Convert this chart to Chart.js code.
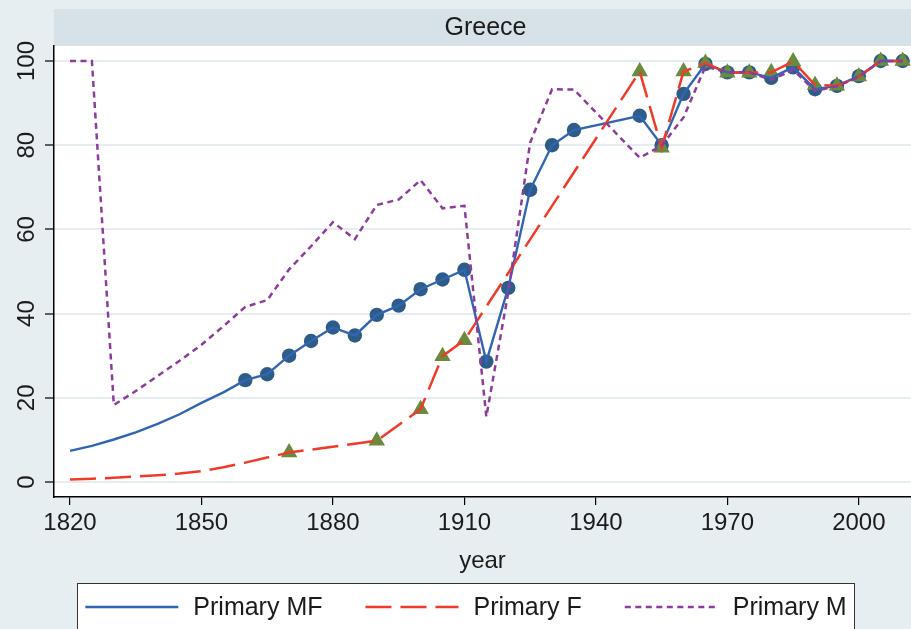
<!DOCTYPE html>
<html lang="en">
<head>
  <meta charset="UTF-8">
  <title>Greece - Primary enrolment</title>
  <script src="https://cdn.jsdelivr.net/npm/chart.js"></script>
  <style>
    html, body { margin: 0; padding: 0; background: #e7eef1; }
    #wrap { width: 911px; height: 629px; }
  </style>
</head>
<body>
  <div id="wrap"><canvas id="chart" width="911" height="629"></canvas></div>
  <script>
    // values
    const mfYears = [1820, 1825, 1830, 1835, 1840, 1845, 1850, 1855, 1860, 1865, 1870, 1875, 1880, 1885, 1890, 1895, 1900, 1905, 1910, 1915, 1920, 1925, 1930, 1935, 1950, 1955, 1960, 1965, 1970, 1975, 1980, 1985, 1990, 1995, 2000, 2005, 2010];
    const mfValues = [7.4, 8.6, 10.1, 11.8, 13.8, 16.1, 18.8, 21.3, 24.2, 25.6, 30.0, 33.5, 36.7, 34.8, 39.7, 41.9, 45.8, 48.1, 50.4, 28.6, 46.1, 69.4, 80.0, 83.6, 87.0, 80.0, 92.2, 99.3, 97.3, 97.3, 96.0, 98.5, 93.3, 94.1, 96.4, 100, 100];

    const fYears = [1820, 1825, 1830, 1835, 1840, 1845, 1850, 1855, 1860, 1865, 1870, 1890, 1900, 1905, 1910, 1950, 1955, 1960, 1965, 1970, 1975, 1980, 1985, 1990, 1995, 2000, 2005, 2010];
    const fValues = [0.6, 0.8, 1.0, 1.3, 1.6, 2.0, 2.6, 3.5, 4.6, 5.8, 7.0, 9.8, 17.3, 29.9, 33.7, 97.5, 79.4, 97.5, 99.5, 97.2, 97.2, 97.3, 99.9, 94.3, 94.1, 96.3, 100, 100];

    const mYears = [1820, 1825, 1830, 1835, 1840, 1845, 1850, 1855, 1860, 1865, 1870, 1875, 1880, 1885, 1890, 1895, 1900, 1905, 1910, 1915, 1920, 1925, 1930, 1935, 1950, 1955, 1960, 1965, 1970, 1975, 1980, 1985, 1990, 1995, 2000, 2005, 2010];
    const mValues = [100, 100, 18.3, 21.6, 25.2, 28.8, 32.6, 37.0, 41.6, 43.2, 50.5, 56.0, 61.7, 57.7, 65.8, 67.1, 71.7, 65.0, 65.6, 15.5, 45.0, 80.6, 93.3, 93.2, 77.0, 79.9, 86.6, 98.7, 97.3, 97.3, 95.5, 97.9, 92.9, 94.0, 96.2, 100, 100];

    // observed (marked) points start here
    const mfMarkFrom = 1860;
    const fMarkFrom = 1870;

    const xTicks = [1820, 1850, 1880, 1910, 1940, 1970, 2000];
    const yTicks = [0, 20, 40, 60, 80, 100];
    const seriesLabels = ['Primary MF', 'Primary F', 'Primary M'];
    const chartTitle = 'Greece';
    const xTitle = 'year';

    const FONT = 'Liberation Sans, Arial, Helvetica, sans-serif';
    const TEXT = '#1b1b1b';

    const pts = (xs, ys) => xs.map((x, i) => ({ x: x, y: ys[i] }));
    const marked = (xs, ys, from) => pts(xs, ys).filter(p => p.x >= from);

    // backgrounds, title band, rotated y labels and the boxed legend
    const stataFrame = {
      id: 'stataFrame',
      beforeDraw(chart) {
        const { ctx, chartArea: a } = chart;
        ctx.save();
        ctx.fillStyle = '#e7eef1';
        ctx.fillRect(0, 0, chart.width, chart.height);
        ctx.fillStyle = '#d6e2e8';
        ctx.fillRect(a.left, 9, a.right - a.left, a.top - 9);
        ctx.fillStyle = '#ffffff';
        ctx.fillRect(a.left, a.top, a.right - a.left, a.bottom - a.top);
        ctx.fillStyle = TEXT;
        ctx.font = '25px ' + FONT;
        ctx.textAlign = 'center';
        ctx.textBaseline = 'middle';
        ctx.fillText(chartTitle, (a.left + a.right) / 2 + 3, 28);
        ctx.restore();
      },
      afterDraw(chart) {
        const { ctx } = chart;
        const ys = chart.scales.y;
        ctx.save();
        ctx.fillStyle = TEXT;
        ctx.font = '24px ' + FONT;
        ctx.textAlign = 'center';
        ctx.textBaseline = 'alphabetic';
        ys.ticks.forEach(t => {
          const py = ys.getPixelForValue(t.value);
          ctx.save();
          ctx.translate(34, py);
          ctx.rotate(-Math.PI / 2);
          ctx.fillText(String(t.value), 0, 0);
          ctx.restore();
        });

        // legend
        const box = { x: 77.5, y: 583.5, w: 777, h: 60 };
        ctx.fillStyle = '#ffffff';
        ctx.fillRect(box.x, box.y, box.w, box.h);
        ctx.strokeStyle = '#333';
        ctx.lineWidth = 1;
        ctx.strokeRect(box.x, box.y, box.w, box.h);
        const lines = chart.data.datasets.filter(d => d.inLegend);
        const sampleW = 93, gapIn = 15, gapOut = 43;
        ctx.font = '25px ' + FONT;
        const widths = lines.map(d => ctx.measureText(d.label).width);
        const total = widths.reduce((s, w) => s + w, 0) + lines.length * (sampleW + gapIn) + (lines.length - 1) * gapOut;
        let x = box.x + (box.w - total) / 2;
        const cy = 607;
        lines.forEach((d, i) => {
          ctx.save();
          ctx.strokeStyle = d.borderColor;
          ctx.lineWidth = d.borderWidth;
          ctx.setLineDash(d.borderDash || []);
          ctx.beginPath();
          ctx.moveTo(x, cy);
          ctx.lineTo(x + sampleW, cy);
          ctx.stroke();
          ctx.restore();
          x += sampleW + gapIn;
          ctx.fillStyle = TEXT;
          ctx.textAlign = 'left';
          ctx.textBaseline = 'middle';
          ctx.fillText(d.label, x, cy + 1);
          x += widths[i] + gapOut;
        });
        ctx.restore();
      }
    };

    new Chart(document.getElementById('chart'), {
      type: 'line',
      data: {
        datasets: [
          {
            label: 'MF markers',
            data: marked(mfYears, mfValues, mfMarkFrom),
            showLine: false,
            pointStyle: 'circle',
            pointRadius: 7.2,
            pointBackgroundColor: '#2e5c89',
            pointBorderWidth: 0,
            order: 6
          },
          {
            label: 'F markers',
            data: marked(fYears, fValues, fMarkFrom),
            showLine: false,
            pointStyle: 'triangle',
            pointRadius: 9.5,
            pointBackgroundColor: '#6b8a3d',
            pointBorderWidth: 0,
            order: 5
          },
          {
            label: seriesLabels[0],
            inLegend: true,
            data: pts(mfYears, mfValues),
            borderColor: '#3265b1',
            borderWidth: 2.4,
            pointRadius: 0,
            tension: 0,
            order: 3
          },
          {
            label: seriesLabels[1],
            inLegend: true,
            data: pts(fYears, fValues),
            borderColor: '#f03a2a',
            borderWidth: 2.5,
            borderDash: [26, 9],
            pointRadius: 0,
            tension: 0,
            order: 2
          },
          {
            label: seriesLabels[2],
            inLegend: true,
            data: pts(mYears, mValues),
            borderColor: '#8c3d9b',
            borderWidth: 2.5,
            borderDash: [6, 4.5],
            pointRadius: 0,
            tension: 0,
            order: 1
          }
        ]
      },
      options: {
        responsive: false,
        animation: false,
        devicePixelRatio: 1,
        layout: { autoPadding: false, padding: { top: 46, right: 0, bottom: 52, left: 0 } },
        plugins: {
          legend: { display: false },
          title: { display: false },
          tooltip: { enabled: false }
        },
        scales: {
          x: {
            type: 'linear',
            min: 1816.35,
            max: 2011.9,
            afterBuildTicks: s => { s.ticks = xTicks.map(v => ({ value: v })); },
            afterFit: s => { s.height = 80; s.paddingRight = 0; },
            grid: { drawOnChartArea: false, drawTicks: true, tickLength: 8, color: '#000', lineWidth: 1.2 },
            border: { display: true, color: '#000', width: 1.5 },
            ticks: {
              color: TEXT,
              font: { family: FONT, size: 24 },
              padding: 4,
              maxRotation: 0,
              autoSkip: false,
              callback: v => String(v)
            },
            title: {
              display: true,
              text: xTitle,
              color: TEXT,
              font: { family: FONT, size: 24 },
              padding: { top: 0, bottom: 1 }
            }
          },
          y: {
            type: 'linear',
            min: -3.56,
            max: 103.56,
            afterBuildTicks: s => { s.ticks = yTicks.map(v => ({ value: v })); },
            afterFit: s => { s.width = 54; },
            grid: { drawOnChartArea: true, drawTicks: true, tickLength: 9, color: '#e6edf0', lineWidth: 2, tickColor: '#000', tickWidth: 1.2 },
            border: { display: true, color: '#000', width: 1.5 },
            ticks: { display: false }
          }
        }
      },
      plugins: [stataFrame]
    });
  </script>
</body>
</html>
